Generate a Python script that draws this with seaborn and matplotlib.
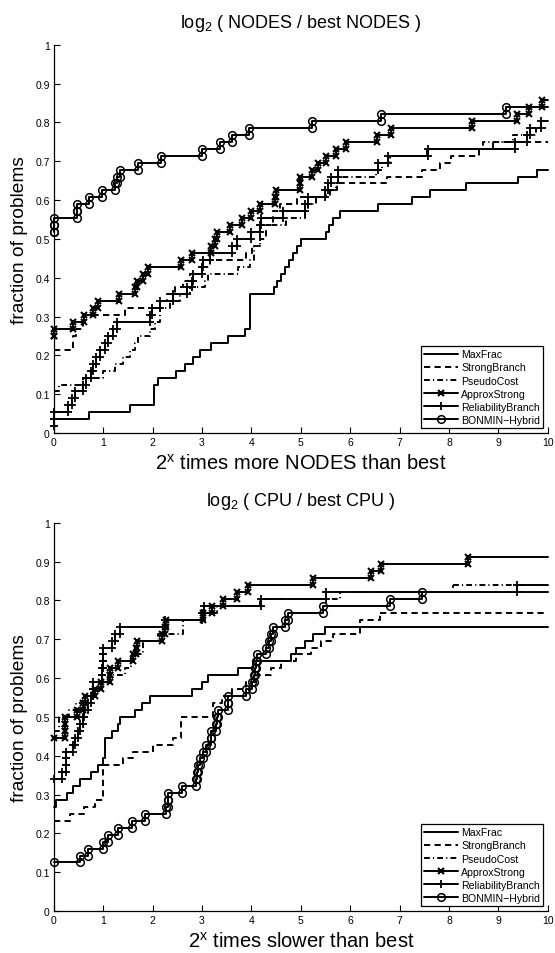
"""Performance profiles (NODES and CPU) for six branching rules."""
import matplotlib
matplotlib.use("Agg")
import matplotlib.pyplot as plt
import seaborn as sns

N_PROBLEMS = 56
X_MAX = 10

SOLVERS = ["MaxFrac", "StrongBranch", "PseudoCost", "ApproxStrong",
           "ReliabilityBranch", "BONMIN\u2212Hybrid"]

# each profile: (log2 ratio where the curve steps up, problems solved from there)
nodes_maxfrac = [(0, 2), (0.71, 3), (1.54, 4), (2.02, 7), (2.1, 8), (2.47, 9), (2.65, 10),
                 (2.82, 11), (2.95, 12), (3.18, 13), (3.52, 14), (3.87, 15), (3.98, 20),
                 (4.45, 21), (4.52, 22), (4.6, 23), (4.68, 24), (4.76, 25), (4.84, 26),
                 (4.92, 27), (5.0, 28), (5.5, 29), (5.57, 30), (5.65, 31), (5.79, 32),
                 (6.56, 33), (7.25, 34), (7.61, 35), (8.34, 36), (9.39, 37), (9.78, 38)]
nodes_strong = [(0, 12), (0.38, 14), (0.45, 15), (0.6, 16), (0.62, 17), (1.45, 18),
                (2.15, 19), (2.3, 20), (2.45, 21), (2.62, 22), (2.75, 23), (3.0, 24),
                (3.16, 25), (3.9, 26), (4.02, 27), (4.17, 28), (4.3, 30), (4.43, 32),
                (4.57, 33), (4.92, 34), (5.6, 35), (5.73, 36), (6.74, 37), (7.45, 38),
                (7.81, 39), (8.05, 40), (8.6, 41), (8.9, 42)]
nodes_pseudo = [(0, 6), (0.1, 7), (0.6, 8), (1.0, 9), (1.23, 10), (1.4, 11), (1.54, 12),
                (1.65, 13), (1.7, 14), (1.94, 15), (2.05, 16), (2.15, 18), (2.36, 19),
                (2.56, 20), (2.75, 21), (3.06, 22), (3.12, 23), (3.73, 24), (3.97, 25),
                (4.05, 27), (4.17, 30), (4.71, 31), (5.08, 32), (5.15, 33), (5.3, 34),
                (5.5, 35), (5.72, 36), (5.75, 37), (6.53, 38), (6.65, 39), (6.8, 40),
                (7.55, 41), (8.69, 42), (9.3, 43), (9.77, 44)]
nodes_approx = [(0, 14), (0, 15), (0.38, 16), (0.61, 17), (0.79, 18), (0.89, 19), (1.32, 20),
                (1.64, 21), (1.68, 22), (1.8, 23), (1.9, 24), (2.58, 25), (2.8, 26),
                (3.19, 27), (3.26, 28), (3.3, 29), (3.56, 30), (3.8, 31), (4.0, 32),
                (4.17, 33), (4.47, 34), (4.5, 35), (4.98, 36), (4.99, 37), (5.22, 38),
                (5.35, 39), (5.52, 40), (5.72, 41), (5.92, 42), (6.54, 43), (6.82, 44),
                (8.46, 45), (9.37, 46), (9.62, 47), (9.89, 48)]
nodes_reliab = [(0, 1), (0, 2), (0, 3), (0.29, 4), (0.36, 5), (0.43, 6), (0.6, 7),
                (0.66, 8), (0.76, 9), (0.8, 10), (0.86, 11), (0.93, 12), (1.03, 13),
                (1.1, 14), (1.2, 15), (1.27, 16), (1.94, 17), (1.98, 18), (2.15, 19),
                (2.42, 20), (2.69, 21), (2.79, 22), (2.82, 23), (2.99, 24), (3.02, 25),
                (3.16, 26), (3.6, 27), (3.7, 28), (4.0, 29), (4.17, 30), (4.2, 31),
                (4.64, 32), (5.08, 33), (5.15, 34), (5.49, 35), (5.55, 36), (5.62, 37),
                (5.75, 38), (6.56, 39), (6.76, 40), (7.57, 41), (9.33, 42), (9.57, 43),
                (9.64, 44), (9.87, 45)]
nodes_bonmin = [(0, 29), (0, 30), (0, 31), (0.47, 32), (0.47, 33), (0.71, 34), (0.98, 35),
                (1.23, 36), (1.27, 37), (1.33, 38), (1.7, 39), (2.16, 40), (3.0, 41),
                (3.36, 42), (3.6, 43), (3.95, 44), (5.22, 45), (6.63, 46), (9.15, 47)]

cpu_maxfrac = [(0, 15), (0.05, 16), (0.26, 17), (0.39, 18), (0.53, 19), (0.76, 20),
               (0.9, 21), (1.0, 22), (1.03, 25), (1.17, 26), (1.3, 27), (1.34, 28),
               (1.64, 29), (1.78, 30), (1.94, 31), (2.79, 32), (3.0, 33), (3.12, 34),
               (3.73, 35), (4.03, 36), (4.81, 37), (4.91, 38), (5.08, 39), (5.25, 40),
               (5.49, 41)]
cpu_strong = [(0, 13), (0.32, 14), (0.62, 15), (0.83, 16), (0.99, 17), (1.0, 21),
              (1.4, 22), (1.6, 23), (2.01, 24), (2.42, 25), (2.58, 28), (3.22, 30),
              (3.4, 31), (3.6, 32), (3.9, 33), (4.1, 34), (4.4, 35), (4.6, 36), (4.9, 37),
              (5.2, 38), (5.4, 39), (5.65, 40), (6.19, 42), (6.6, 43)]
cpu_pseudo = [(0, 26), (0.1, 28), (0.3, 29), (0.45, 30), (0.6, 31), (0.75, 32), (0.9, 33),
              (1.1, 34), (1.44, 35), (1.57, 37), (1.81, 39), (2.11, 40), (2.62, 42),
              (3.0, 43), (3.3, 44), (4.17, 45), (5.8, 46), (8.08, 47)]
cpu_approx = [(0, 25), (0.22, 26), (0.22, 27), (0.22, 28), (0.46, 29), (0.59, 30),
              (0.63, 31), (0.83, 32), (0.96, 33), (1.13, 34), (1.13, 35), (1.3, 36),
              (1.6, 37), (1.66, 38), (1.69, 39), (2.18, 40), (2.25, 41), (2.28, 42),
              (3.02, 43), (3.2, 44), (3.43, 45), (3.7, 46), (3.93, 47), (5.25, 48),
              (6.43, 49), (6.63, 50), (8.39, 51)]
cpu_reliab = [(0, 19), (0.16, 20), (0.24, 21), (0.24, 22), (0.24, 23), (0.39, 24),
              (0.42, 25), (0.49, 26), (0.52, 27), (0.59, 28), (0.62, 29), (0.7, 30),
              (0.75, 31), (0.8, 32), (0.8, 33), (0.97, 34), (0.97, 35), (1.0, 36),
              (1.0, 37), (1.0, 38), (1.17, 39), (1.24, 40), (1.34, 41), (2.25, 42),
              (3.0, 43), (3.05, 44), (4.2, 45), (5.52, 46), (9.37, 47)]
cpu_bonmin = [(0, 7), (0.53, 8), (0.69, 9), (1.0, 10), (1.1, 11), (1.3, 12), (1.59, 13),
              (1.84, 14), (2.28, 15), (2.31, 16), (2.31, 17), (2.6, 18), (2.88, 19),
              (2.9, 20), (2.92, 21), (2.95, 22), (3.02, 23), (3.09, 24), (3.19, 25),
              (3.19, 26), (3.29, 27), (3.31, 28), (3.33, 29), (3.53, 30), (3.53, 31),
              (3.9, 32), (4.02, 33), (4.05, 34), (4.07, 35), (4.09, 36), (4.12, 37),
              (4.3, 38), (4.35, 39), (4.4, 40), (4.44, 41), (4.68, 42), (4.74, 43),
              (5.45, 44), (6.8, 45), (7.46, 46)]

NODES = [nodes_maxfrac, nodes_strong, nodes_pseudo, nodes_approx, nodes_reliab, nodes_bonmin]
CPU = [cpu_maxfrac, cpu_strong, cpu_pseudo, cpu_approx, cpu_reliab, cpu_bonmin]

STYLE = {
    "MaxFrac": dict(linestyle="-"),
    "StrongBranch": dict(linestyle=(0, (3.2, 2.2))),
    "PseudoCost": dict(linestyle=(0, (3.0, 1.6, 0.6, 1.6))),
    "ApproxStrong": dict(linestyle="-", marker="x", markersize=4.2, markeredgewidth=1.5),
    "ReliabilityBranch": dict(linestyle="-", marker="+", markersize=6, markeredgewidth=1.3),
    "BONMIN\u2212Hybrid": dict(linestyle="-", marker="o", markersize=5.5,
                               markerfacecolor="none", markeredgewidth=1.1),
}

sns.set_style("ticks")
plt.rcParams["font.family"] = ["Liberation Sans", "DejaVu Sans"]
plt.rcParams["mathtext.fontset"] = "custom"
plt.rcParams["mathtext.rm"] = "Liberation Sans"
plt.rcParams["mathtext.it"] = "Liberation Sans:italic"
for key in ("text.color", "axes.labelcolor", "xtick.color", "ytick.color", "axes.edgecolor"):
    plt.rcParams[key] = "black"


def stairs(jumps):
    xs = [jumps[0][0]]
    ys = [jumps[0][1] / N_PROBLEMS]
    for x, n in jumps[1:]:
        xs += [x, x]
        ys += [ys[-1], n / N_PROBLEMS]
    return xs, ys


def draw(ax, profiles, title, xlabel):
    for name, jumps in zip(SOLVERS, profiles):
        xs, ys = stairs(jumps)
        st = dict(STYLE[name])
        st.setdefault("markeredgewidth", 1.1)
        sns.lineplot(x=xs, y=ys, ax=ax, sort=False, estimator=None, color="black",
                     lw=1.4, label=name, clip_on=False, zorder=3,
                     markeredgecolor="black", **st)
        # flat tail out to the right edge, no markers
        sns.lineplot(x=[xs[-1], X_MAX], y=[ys[-1], ys[-1]], ax=ax, color="black", lw=1.4,
                     linestyle=st["linestyle"], clip_on=False, zorder=3)
    ax.set_xlim(0, X_MAX)
    ax.set_ylim(0, 1)
    ax.set_xticks(range(0, 11))
    ax.set_yticks([i / 10 for i in range(11)])
    ax.set_yticklabels(["0"] + [f"{i / 10:g}" for i in range(1, 10)] + ["1"])
    ax.tick_params(direction="in", length=4, width=0.8, labelsize=7.5, pad=3,
                   colors="black")
    for s in ("top", "right"):
        ax.spines[s].set_visible(False)
    for s in ("left", "bottom"):
        ax.spines[s].set_linewidth(0.9)
        ax.spines[s].set_color("black")
    ax.set_title(title, fontsize=13, pad=13)
    ax.set_xlabel(xlabel, fontsize=14.5, labelpad=4)
    ax.set_ylabel("fraction of problems", fontsize=13.8, labelpad=5)
    ax.legend(loc="lower right", frameon=True, fancybox=False, edgecolor="black",
              framealpha=1, fontsize=7.6, handlelength=3.2, borderpad=0.3,
              labelspacing=0.3, handletextpad=0.3, borderaxespad=0.45, numpoints=1)
    ax.get_legend().get_frame().set_linewidth(0.9)


fig = plt.figure(figsize=(5.55, 9.54), dpi=100)
ax1 = fig.add_axes([0.097, 0.545, 0.890, 0.407])
ax2 = fig.add_axes([0.097, 0.044, 0.890, 0.407])

draw(ax1, NODES, r"log$_2$ ( NODES / best NODES )", r"2$^{\rm x}$ times more NODES than best")
draw(ax2, CPU, r"log$_2$ ( CPU / best CPU )", r"2$^{\rm x}$ times slower than best")

fig.savefig("out.png", dpi=100)
